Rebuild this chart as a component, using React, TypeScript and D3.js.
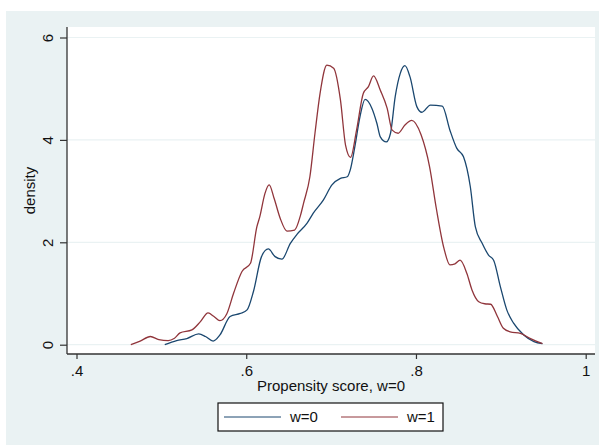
import * as d3 from "d3";
import React, { useEffect, useRef } from "react";

// kernel density of propensity score, w=0 group (blue)
const scoreW0 = [0.504, 0.518, 0.53, 0.544, 0.552, 0.561, 0.569, 0.581, 0.593, 0.601, 0.6085, 0.618, 0.626, 0.634, 0.642, 0.652, 0.66, 0.6715, 0.679, 0.691, 0.701, 0.711, 0.719, 0.7225, 0.728, 0.734, 0.74, 0.748, 0.754, 0.758, 0.765, 0.77, 0.7755, 0.7815, 0.787, 0.793, 0.801, 0.807, 0.817, 0.831, 0.84, 0.848, 0.856, 0.864, 0.87, 0.878, 0.8855, 0.8915, 0.8995, 0.907, 0.915, 0.927, 0.939, 0.949];
const densW0 = [0, 0.08, 0.12, 0.21, 0.16, 0.07, 0.19, 0.55, 0.61, 0.68, 1.04, 1.72, 1.87, 1.72, 1.67, 1.98, 2.16, 2.37, 2.57, 2.83, 3.12, 3.25, 3.28, 3.41, 3.87, 4.45, 4.79, 4.62, 4.32, 4.06, 3.96, 4.13, 4.84, 5.3, 5.45, 5.23, 4.65, 4.54, 4.68, 4.66, 4.19, 3.84, 3.67, 3.09, 2.3, 1.98, 1.75, 1.65, 1.13, 0.68, 0.42, 0.19, 0.06, 0.02];

// w=1 group (red)
const scoreW1 = [0.464, 0.475, 0.487, 0.497, 0.508, 0.515, 0.522, 0.536, 0.546, 0.555, 0.562, 0.569, 0.577, 0.585, 0.595, 0.605, 0.6125, 0.616, 0.622, 0.627, 0.633, 0.64, 0.648, 0.657, 0.664, 0.6675, 0.675, 0.681, 0.687, 0.695, 0.703, 0.711, 0.717, 0.723, 0.73, 0.738, 0.744, 0.75, 0.758, 0.766, 0.772, 0.779, 0.787, 0.795, 0.806, 0.816, 0.824, 0.833, 0.84, 0.846, 0.852, 0.86, 0.866, 0.874, 0.881, 0.888, 0.896, 0.903, 0.911, 0.923, 0.935, 0.949];
const densW1 = [0, 0.07, 0.16, 0.1, 0.08, 0.12, 0.23, 0.29, 0.45, 0.62, 0.55, 0.47, 0.6, 1.0, 1.43, 1.59, 2.3, 2.5, 2.95, 3.12, 2.85, 2.47, 2.22, 2.24, 2.53, 2.76, 3.28, 4.13, 4.91, 5.46, 5.4, 4.78, 3.9, 3.66, 4.19, 4.91, 5.04, 5.25, 4.97, 4.62, 4.19, 4.13, 4.29, 4.38, 4.1, 3.48, 2.66, 1.88, 1.56, 1.58, 1.65, 1.39, 1.07, 0.84, 0.8, 0.79, 0.55, 0.32, 0.25, 0.22, 0.12, 0.02];

const xTicks = [0.4, 0.6, 0.8, 1];
const yTicks = [0, 2, 4, 6];
const seriesNames = ["w=0", "w=1"];

const W = 603;
const H = 445;
const NAVY = "#1a476f";
const MAROON = "#90353b";
const FONT = "'Liberation Sans', Arial, sans-serif";

const plot = { left: 67, right: 595, top: 27, bottom: 354 };

const App = () => {
  const xAxisRef = useRef<SVGGElement>(null);
  const yAxisRef = useRef<SVGGElement>(null);

  const x = d3.scaleLinear().domain([0.4, 1]).range([76.5, 585.7]);
  const y = d3.scaleLinear().domain([0, 6]).range([344.7, 37.5]);

  const line = d3
    .line<[number, number]>()
    .x((d) => x(d[0]))
    .y((d) => y(d[1]))
    .curve(d3.curveMonotoneX);

  const w0 = scoreW0.map((s, i) => [s, densW0[i]] as [number, number]);
  const w1 = scoreW1.map((s, i) => [s, densW1[i]] as [number, number]);

  useEffect(() => {
    const fmt = (d: number) => (d === 1 ? "1" : d3.format(".1f")(d).replace(/^0/, ""));
    const gx = d3.select(xAxisRef.current);
    gx.selectAll("*").remove();
    gx.call(d3.axisBottom(x).tickValues(xTicks).tickSize(5).tickFormat(fmt as any));
    gx.select(".domain").remove();
    gx.selectAll("line").attr("stroke", "#333").attr("stroke-width", 1.2);
    gx.selectAll("text")
      .attr("y", 22)
      .attr("dy", 0)
      .attr("fill", "#111")
      .style("font-size", "15px")
      .style("font-family", FONT);

    const gy = d3.select(yAxisRef.current);
    gy.selectAll("*").remove();
    gy.call(d3.axisLeft(y).tickValues(yTicks).tickSize(7).tickFormat(d3.format("d") as any));
    gy.select(".domain").remove();
    gy.selectAll("line").attr("stroke", "#333").attr("stroke-width", 1.2);
    gy.selectAll("text")
      .attr("transform", "rotate(-90)")
      .attr("x", 0)
      .attr("y", -14.5)
      .attr("dy", 0)
      .attr("text-anchor", "middle")
      .attr("fill", "#111")
      .style("font-size", "15px")
      .style("font-family", FONT);
  }, []);

  return (
    <svg width={W} height={H} style={{ position: "absolute", left: 0, top: 0 }}>
      <rect x={6} y={11} width={593} height={434} fill="#eaf2f3" />
      <rect
        x={plot.left}
        y={plot.top}
        width={plot.right - plot.left}
        height={plot.bottom - plot.top}
        fill="#ffffff"
      />
      {yTicks.map((t) => (
        <line
          key={t}
          x1={plot.left}
          x2={plot.right}
          y1={y(t)}
          y2={y(t)}
          stroke="#eaf2f3"
          strokeWidth={1.2}
        />
      ))}
      <path d={line(w0) || ""} fill="none" stroke={NAVY} strokeWidth={1.3} />
      <path d={line(w1) || ""} fill="none" stroke={MAROON} strokeWidth={1.3} />
      <line x1={plot.left} x2={plot.left} y1={plot.top} y2={plot.bottom} stroke="#333" strokeWidth={1.3} />
      <line x1={plot.left} x2={plot.right} y1={plot.bottom} y2={plot.bottom} stroke="#333" strokeWidth={1.3} />
      <g ref={xAxisRef} transform={`translate(0,${plot.bottom})`} />
      <g ref={yAxisRef} transform={`translate(${plot.left},0)`} />
      <text
        x={(plot.left + plot.right) / 2}
        y={391}
        textAnchor="middle"
        fontSize={15}
        fontFamily={FONT}
        fill="#111"
      >
        Propensity score, w=0
      </text>
      <text
        transform={`translate(35,${(plot.top + plot.bottom) / 2}) rotate(-90)`}
        textAnchor="middle"
        fontSize={15}
        fontFamily={FONT}
        fill="#111"
      >
        density
      </text>
      <g>
        <rect x={218} y={403} width={225} height={28} fill="#ffffff" stroke="#111" strokeWidth={1.2} />
        {seriesNames.map((name, i) => (
          <g key={name} transform={`translate(${224 + i * 117},417)`}>
            <line x1={0} x2={57} y1={0} y2={0} stroke={i === 0 ? NAVY : MAROON} strokeWidth={1} />
            <text x={66} y={5} fontSize={15} fontFamily={FONT} fill="#111">
              {name}
            </text>
          </g>
        ))}
      </g>
    </svg>
  );
};

export default App;
